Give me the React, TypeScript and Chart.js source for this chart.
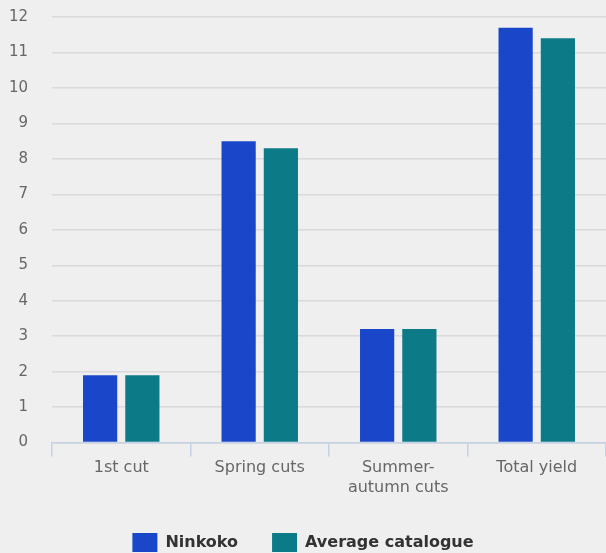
import { useEffect, useRef } from 'react';
import { Chart, ChartConfiguration, registerables } from 'chart.js';

Chart.register(...registerables);

const categories: (string | string[])[] = ['1st cut', 'Spring cuts', ['Summer-', 'autumn cuts'], 'Total yield'];
const ninkoko = [1.9, 8.5, 3.2, 11.7];
const averageCatalogue = [1.9, 8.3, 3.2, 11.4];
const yTicks = [0, 1, 2, 3, 4, 5, 6, 7, 8, 9, 10, 11, 12];

const FONT = '"DejaVu Sans", Verdana, sans-serif';

const App = () => {
    const chartRef = useRef<HTMLCanvasElement | null>(null);
    const chartInstance = useRef<Chart | null>(null);

    useEffect(() => {
        document.body.style.margin = '0';
        document.body.style.background = '#efefef';
        if (!chartRef.current) return;
        const ctx = chartRef.current.getContext('2d');
        if (!ctx) return;

        const config: ChartConfiguration = {
            type: 'bar',
            data: {
                labels: categories,
                datasets: [
                    {
                        label: 'Ninkoko',
                        data: ninkoko,
                        backgroundColor: '#1a47c9',
                        categoryPercentage: 0.61,
                        barPercentage: 0.81,
                    },
                    {
                        label: 'Average catalogue',
                        data: averageCatalogue,
                        backgroundColor: '#0d7b87',
                        categoryPercentage: 0.61,
                        barPercentage: 0.81,
                    },
                ],
            },
            options: {
                animation: false,
                responsive: false,
                layout: { padding: { top: 17, right: 0, left: 0, bottom: -9 } },
                plugins: {
                    tooltip: { enabled: false },
                    legend: {
                        position: 'bottom',
                        labels: {
                            boxWidth: 25,
                            boxHeight: 19,
                            padding: 34,
                            color: '#333333',
                            font: { family: FONT, size: 16, weight: 'bold' },
                        },
                    },
                },
                scales: {
                    x: {
                        grid: {
                            offset: true,
                            drawOnChartArea: false,
                            drawTicks: true,
                            tickLength: 14,
                            color: '#c4d2e6',
                            lineWidth: 1.5,
                        },
                        border: { color: '#c4d2e6', width: 1.5 },
                        ticks: {
                            color: '#666666',
                            padding: 2,
                            maxRotation: 0,
                            font: { family: FONT, size: 16 },
                        },
                    },
                    y: {
                        min: 0,
                        max: 12,
                        afterFit: (scale) => {
                            scale.width = 52;
                        },
                        afterBuildTicks: (scale) => {
                            scale.ticks = yTicks.map((v) => ({ value: v }));
                        },
                        grid: {
                            color: '#dadada',
                            lineWidth: 1.5,
                            drawTicks: true,
                            tickLength: 24,
                            tickColor: 'rgba(0,0,0,0)',
                        },
                        border: { display: false },
                        ticks: {
                            color: '#666666',
                            padding: 0,
                            font: { family: FONT, size: 15 },
                        },
                    },
                },
            },
        };

        if (chartInstance.current) chartInstance.current.destroy();
        chartInstance.current = new Chart(ctx, config);

        return () => {
            if (chartInstance.current) {
                chartInstance.current.destroy();
                chartInstance.current = null;
            }
        };
    }, []);

    return (
        <div style={{ width: 606, height: 553, background: '#efefef' }}>
            <canvas ref={chartRef} width={606} height={553} style={{ display: 'block' }} />
        </div>
    );
};

export default App;
